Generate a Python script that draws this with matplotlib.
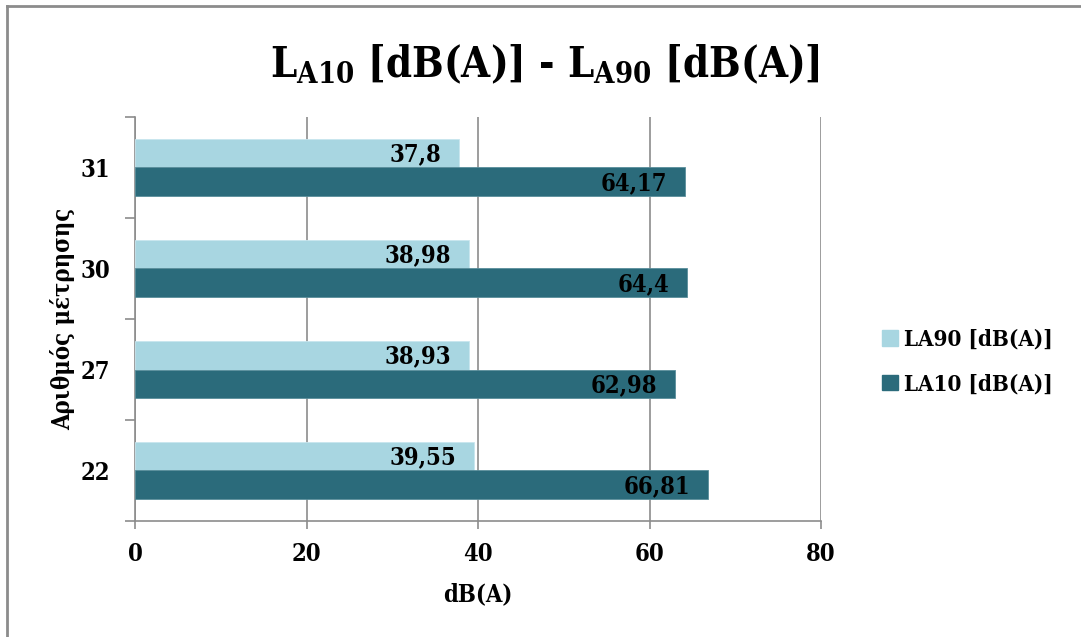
import matplotlib
matplotlib.use("Agg")
import matplotlib.pyplot as plt
from matplotlib.lines import Line2D
import numpy as np

plt.rcParams['font.family'] = ['DejaVu Serif']
plt.rcParams['font.weight'] = 'bold'
plt.rcParams['font.stretch'] = 'condensed'
plt.rcParams['mathtext.fontset'] = 'dejavuserif'

# measurement points, bottom to top
points = ['22', '27', '30', '31']
la90 = [39.55, 38.93, 38.98, 37.8]
la10 = [66.81, 62.98, 64.4, 64.17]
series_names = ['LA90 [dB(A)]', 'LA10 [dB(A)]']

LIGHT = '#a8d6e1'
DARK = '#2b6b7b'
GRID = '#8c8c8c'

fig = plt.figure(figsize=(10.81, 6.37), dpi=100)
ax = fig.add_axes([135 / 1081, 1 - 521 / 637, (821 - 135) / 1081, (521 - 117) / 637])

y = np.arange(len(points))
h = 0.286
b90 = ax.barh(y + h / 2, la90, height=h, color=LIGHT, edgecolor='#c8e6ee', linewidth=0.6,
              label=series_names[0], zorder=3)
b10 = ax.barh(y - h / 2, la10, height=h, color=DARK, edgecolor='#5a8e9b', linewidth=0.6,
              label=series_names[1], zorder=3)

# values printed inside the bar ends, decimal comma
for bars, vals in ((b90, la90), (b10, la10)):
    for rect, v in zip(bars, vals):
        ax.annotate(f'{v:g}'.replace('.', ','),
                    xy=(rect.get_width(), rect.get_y() + rect.get_height() / 2),
                    xytext=(-13, -1), textcoords='offset points',
                    ha='right', va='center', fontsize=17, fontweight='bold',
                    color='black', zorder=4)

ax.set_xlim(0, 80)
ax.set_ylim(-0.5, len(points) - 0.5)
ax.set_xticks([0, 20, 40, 60, 80])
ax.xaxis.grid(True, color=GRID, linewidth=1.2, zorder=0)

# category labels centred, tick marks between categories
ax.set_yticks(np.arange(-0.5, len(points), 1.0))
ax.set_yticklabels([])
ax.set_yticks(y, minor=True)
ax.set_yticklabels(points, minor=True, fontsize=17, fontweight='bold')
ax.tick_params(axis='y', which='minor', length=0, pad=18)
ax.tick_params(axis='y', which='major', length=7, width=1.2, color=GRID)
ax.tick_params(axis='x', length=6, width=1.2, color=GRID, labelsize=17, pad=9)
for lbl in ax.get_xticklabels():
    lbl.set_fontweight('bold')

for side in ('top', 'right'):
    ax.spines[side].set_visible(False)
for side in ('left', 'bottom'):
    ax.spines[side].set_color(GRID)
    ax.spines[side].set_linewidth(1.2)

ax.set_xlabel('dB(A)', fontsize=17, fontweight='bold', labelpad=12)
ax.set_ylabel('Αριθμός μέτρησης', fontsize=17, fontweight='bold', labelpad=4)

fig.text(545 / 1081, 1 - 65 / 637,
         r'L$_\mathbf{A10}$ [dB(A)] - L$_\mathbf{A90}$ [dB(A)]',
         ha='center', va='center', fontsize=30, fontweight='bold')

handles = [plt.Rectangle((0, 0), 1, 1, color=LIGHT), plt.Rectangle((0, 0), 1, 1, color=DARK)]
fig.legend(handles, series_names, loc='center left', bbox_to_anchor=(862 / 1081, 1 - 362 / 637),
           frameon=False, prop={'size': 16, 'weight': 'bold'},
           handlelength=0.7, handleheight=0.7, handletextpad=0.3, labelspacing=1.0)

# chart frame edges
fig.add_artist(Line2D([7 / 1081, 7 / 1081], [0, 1 - 6 / 637], transform=fig.transFigure,
                      color=GRID, linewidth=2))
fig.add_artist(Line2D([7 / 1081, 1], [1 - 6 / 637, 1 - 6 / 637], transform=fig.transFigure,
                      color=GRID, linewidth=2))

fig.savefig('out.png', dpi=100, facecolor='white')
